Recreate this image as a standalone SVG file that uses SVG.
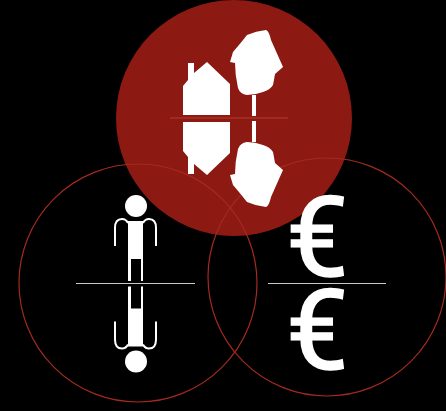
<svg xmlns="http://www.w3.org/2000/svg" width="446" height="411" viewBox="0 0 446 411">
<style>
.w{fill:#fff}
.ring{fill:none;stroke:#a32a20;stroke-width:1.2}
.arm{fill:none;stroke:#fff;stroke-width:2}
.eu{font-family:"Roboto",sans-serif;font-size:111px;fill:#fff;stroke:#fff;stroke-width:1.4;text-anchor:middle}
</style>
<defs>
<g id="home"><path d="M207 62L230 84V115H183V86L188 80V63H194V73Z"/><path d="M266 30Q269 31 271 40L283 67L275 74Q274 80 273 85Q270 90 263 92Q255 95 247 95Q240 94 238 88Q235 75 235 63L230 62L233 52Q240 44 247 35Q256 31 266 30Z"/><rect x="252" y="95" width="4" height="21"/></g>
<g id="man"><circle class="w" cx="136" cy="206" r="11"/><path class="w" d="M128 221H143V281H141V259H131V281H128Z"/><path class="arm" d="M115 246V228Q115 219 122 219Q126 219 128 223M156 246V228Q156 219 149 219Q145 219 143 223"/></g>
</defs>
<rect width="446" height="411" fill="#000"/>
<circle cx="234" cy="118" r="118" fill="#8c1a13"/>
<g id="left-ring"><circle class="ring" cx="138" cy="283" r="119"/></g>
<g id="right-ring"><circle class="ring" cx="327" cy="277" r="119"/></g>
<g id="house-icon" class="w">
<use href="#home"/>
<use href="#home" transform="matrix(1 0 0 -1 0 237)"/>
<line x1="170" y1="118" x2="288" y2="118" stroke="#b8382c" stroke-width="1"/>
</g>
<g id="person-icon">
<use href="#man"/>
<use href="#man" transform="matrix(1 0 0 -1 0 567.500)"/>
<line x1="76" y1="283.500" x2="195" y2="283.500" stroke="#c8c8c8" stroke-width="1"/>
</g>
<g id="euro-icon">
<text class="eu" x="317.500" y="276">€</text>
<text class="eu" x="317.500" y="368.500">€</text>
<line x1="268" y1="283.500" x2="386" y2="283.500" stroke="#c8c8c8" stroke-width="1"/>
</g>
</svg>
